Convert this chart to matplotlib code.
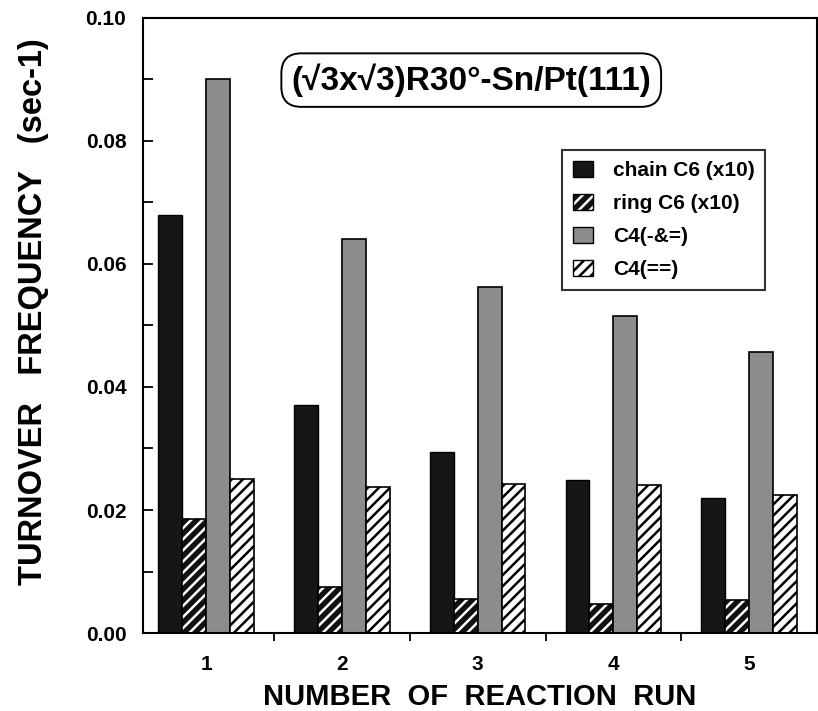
import numpy as np
import matplotlib
matplotlib.use("Agg")
import matplotlib.pyplot as plt
from matplotlib.patches import Patch
from matplotlib.legend_handler import HandlerTuple
from matplotlib.ticker import MultipleLocator, FormatStrFormatter

plt.rcParams["font.family"] = ["Liberation Sans", "DejaVu Sans"]
plt.rcParams["font.weight"] = "bold"
plt.rcParams["hatch.linewidth"] = 1.8

runs = [1, 2, 3, 4, 5]
chain_c6 = [0.068, 0.037, 0.0295, 0.0248, 0.022]
ring_c6 = [0.0185, 0.0075, 0.0055, 0.0047, 0.0053]
c4_single_double = [0.090, 0.064, 0.0563, 0.0515, 0.0457]
c4_diene = [0.025, 0.0238, 0.0243, 0.0240, 0.0224]
labels = ["chain C6 (x10)", "ring C6 (x10)", "C4(-&=)", "C4(==)"]

fig = plt.figure(figsize=(8.18, 7.11), dpi=100)
ax = fig.add_axes([0.1748, 0.1097, 0.824, 0.865])

x = np.array(runs, dtype=float)
w = 0.176
offs = np.array([-1.5, -0.5, 0.5, 1.5]) * w

ax.bar(x + offs[0], chain_c6, w, color="#161616", edgecolor="black", linewidth=1.0)
# ring C6: black with white stripes, black outline drawn on top
ax.bar(x + offs[1], ring_c6, w, color="#111111", edgecolor="white", hatch="///", linewidth=0)
ax.bar(x + offs[1], ring_c6, w, facecolor="none", edgecolor="black", linewidth=1.2)
ax.bar(x + offs[2], c4_single_double, w, color="#8c8c8c", edgecolor="black", linewidth=1.2)
ax.bar(x + offs[3], c4_diene, w, color="white", edgecolor="black", hatch="///", linewidth=1.2)

ax.set_xlim(0.535, 5.5)
ax.set_ylim(0, 0.10)
ax.set_xticks(runs)
ax.set_xticks([1.5, 2.5, 3.5, 4.5], minor=True)
ax.tick_params(axis="x", which="major", length=0, pad=16, labelsize=15)
ax.tick_params(axis="x", which="minor", length=6, width=1.3, direction="out")
ax.yaxis.set_major_locator(MultipleLocator(0.02))
ax.yaxis.set_minor_locator(MultipleLocator(0.01))
ax.yaxis.set_major_formatter(FormatStrFormatter("%.2f"))
ax.tick_params(axis="y", which="both", direction="in", length=7, width=1.3, labelsize=15, pad=12)
for s in ax.spines.values():
    s.set_linewidth(1.5)

ax.set_xlabel("NUMBER  OF  REACTION  RUN", fontsize=21, fontweight="bold")
ax.xaxis.set_label_coords(0.5, -0.082)
ax.set_ylabel("TURNOVER   FREQUENCY   (sec-1)", fontsize=23.5, fontweight="bold")
ax.yaxis.set_label_coords(-0.14, 0.522)

ax.text(0.487, 0.899, "(√3x√3)R30°-Sn/Pt(111)", transform=ax.transAxes, ha="center", va="center",
        fontsize=24, fontweight="bold",
        bbox=dict(boxstyle="round,pad=0.3,rounding_size=0.6", facecolor="white",
                  edgecolor="black", linewidth=1.4))

h_chain = Patch(facecolor="#161616", edgecolor="black")
h_ring = (Patch(facecolor="#111111", edgecolor="white", hatch="///", linewidth=0),
          Patch(facecolor="none", edgecolor="black"))
h_c4a = Patch(facecolor="#8c8c8c", edgecolor="black")
h_c4b = Patch(facecolor="white", edgecolor="black", hatch="///")
leg = ax.legend([h_chain, h_ring, h_c4a, h_c4b], labels,
                handler_map={tuple: HandlerTuple(ndivide=1)},
                loc="upper left", bbox_to_anchor=(0.622, 0.785), borderaxespad=0,
                fontsize=15, handlelength=1.0, handleheight=0.85, labelspacing=0.65,
                handletextpad=0.95, borderpad=0.5, frameon=True, fancybox=False)
leg.get_frame().set_edgecolor("black")
leg.get_frame().set_linewidth(1.5)

fig.savefig("out.png", dpi=100)
